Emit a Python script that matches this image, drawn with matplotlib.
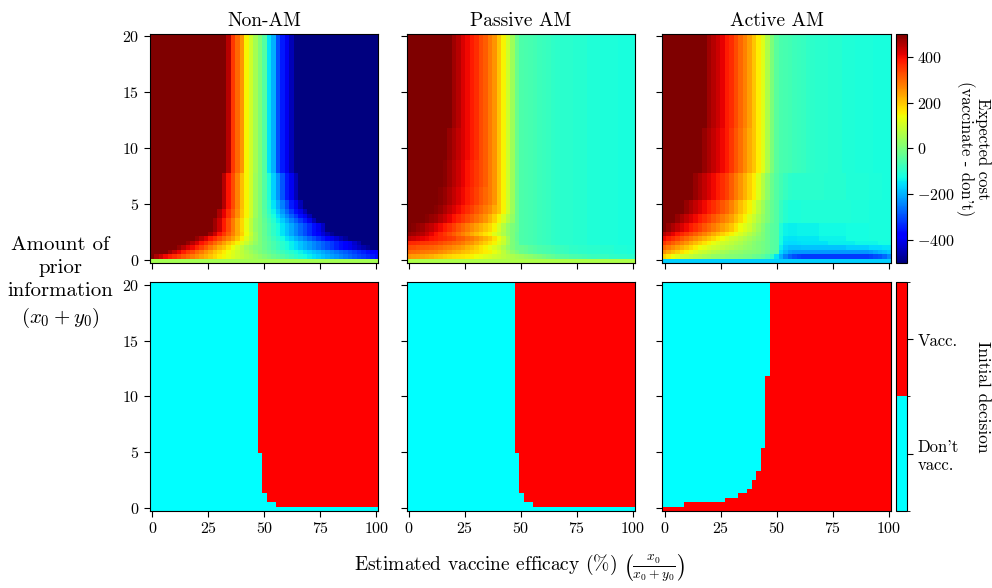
import numpy as np
import matplotlib.pyplot as plt
from matplotlib.colors import ListedColormap, BoundaryNorm
from matplotlib.cm import ScalarMappable

plt.rcParams['font.family'] = 'serif'
plt.rcParams['font.serif'] = ['cmr10']
plt.rcParams['mathtext.fontset'] = 'cm'
plt.rcParams['axes.formatter.use_mathtext'] = True

# grid: estimated efficacy (%) across, amount of prior information (x0 + y0) up
efficacy_pct = np.arange(0, 101, 2)
prior_amount = np.arange(0, 20.01, 0.4)

titles = ['Non-AM', 'Passive AM', 'Active AM']

# Expected cost (vaccinate - don't), one string per row of prior_amount.
# "v*n" means the value v repeated n times.
nonam_cost_rows = (
    ["50*51"]
    + ["500 460 430 400 380 360 340 320 300 280 260 240 220 200 180 160 145 130 115 100 85 70 55 40 "
       "25 10 -5 -20 -35 -50 -65 -80 -95 -110 -125 -140 -155 -170 -185 -200 -215 -230 -245 -260 -275 "
       "-290 -305 -320 -335 -350 -365"]
    + ["500*4 470 440 410 380 350 330 300 280 250 230 200 180 160 140 120 100 80 60 40 20 "
       "0 -15 -30 -45 -60 -75 -90 -105 -120 -135 -150 -165 -180 -195 -210 -225 -240 -255 -270 -285 "
       "-300 -315 -330 -345 -360 -375 -390"]
    + ["500*6 480 450 420 400 370 340 310 280 250 220 200 170 140 110 80 50 30 10 "
       "0 -20 -40 -60 -80 -100 -120 -140 -160 -180 -200 -220 -240 -260 -280 -300 -320 -340 -360 -380 "
       "-400 -420 -440 -460 -480 -500*2"]
    + ["500*8 480 450 420 390 360 330 300 270 240 210 180 150 120 90 60 30 "
       "0 -20 -40 -60 -80 -100 -120 -140 -160 -180 -200 -220 -240 -260 -280 -300 -320 -340 -360 -380 "
       "-400 -430 -460 -500*4"]
    + ["500*10 480 450 420 390 360 330 300 270 240 200 160 120 80 40 "
       "0 -25 -50 -75 -100 -125 -150 -175 -200 -225 -250 -275 -300 -325 -350 -375 -400 -425 -450 -475 "
       "-500*7"]
    + ["500*13 470 430 390 350 310 270 230 190 140 90 40 "
       "0 -30 -60 -90 -120 -150 -180 -210 -240 -270 -300 -330 -360 -390 -420 -450 -480 -500*10"]
    + ["500*14 470 430 380 330 280 230 180 130 80 30 "
       "0 -30 -60 -90 -120 -150 -180 -210 -240 -270 -300 -330 -360 -400 -440 -500*12"] * 2
    + ["500*14 470 430 380 330 280 230 180 130 80 30 "
       "0 -35 -70 -105 -140 -175 -210 -245 -280 -315 -350 -400 -450 -500*14"]
    + ["500*15 460 410 360 310 260 200 150 100 40 "
       "0 -40 -80 -120 -160 -200 -240 -280 -320 -360 -400 -450 -500*15"]
    + ["500*15 460 410 360 310 260 200 150 100 40 "
       "0 -45 -90 -135 -180 -225 -270 -315 -360 -405 -450 -500*16"]
    + ["500*16 450 390 330 270 210 150 100 40 "
       "0 -50 -100 -150 -200 -250 -300 -350 -400 -450 -500*17"] * 2
    + ["500*16 450 390 330 270 210 150 100 40 "
       "0 -50 -110 -170 -230 -290 -350 -400 -450 -500*18"] * 6
    + ["500*17 450 350 300 250 150 100 50 0 -50 -150 -200 -300 -350 -400 -450 -500*19"] * 31
)

p_tail = "-55 -60 -65 -70 -75 -80 -85 -90 -95 -100*3 -105*3 -110*3 -115*4 -120*4"
p_tail_08 = "-20 -30 -40 -50 -55 -60 -65 -70 -75 -80 -85 -90*2 -95*2 -100*3 -105*3 -110*3 -115*2"
p_tail_04 = ("40 30 20 10 0 -10 -20 -30 -40 -45 -50 -55 -60 -65 -70 -75 "
             "-80*2 -85*2 -90*2 -95*2 -100*2")

passive_cost_rows = (
    ["60*51"]
    + ["250 245 240 235 230 220 210 200 190 180 175 170 165 160 150 140 130 120 110 100 90 80 70 60 50 "
       + p_tail_04]
    + ["300 295 290 285 280 275 270 260 250 240 230 220 210 200 190 180 170 160 150 130 110 80 50 20 0 "
       + p_tail_08]
    + ["330 325 320 315 310 305 300 290 280 270 260 250 240 220 210 190 170 150 130 110 90 60 30 0 -20 "
       + p_tail_08]
    + ["370 365 360 355 350 345 340 330 320 310 300 290 280 260 250 230 210 190 170 150 120 90 50 0 -20 "
       + p_tail]
    + ["440 430 420 410 400 390 380 370 360 350 340 320 310 290 280 260 240 220 200 170 140 100 50 0 -30 "
       + p_tail]
    + ["480 470 460 450 430 410 390 370 350 330 310 290 270 250 230 210 190 170 150 120 90 60 30 0 -30 "
       + p_tail]
    + ["500 490 480 470 450 440 420 400 380 360 340 320 300 280 260 240 220 200 180 150 110 70 30 0 -20 "
       + p_tail] * 2
    + ["500*4 490 480 470 450 430 410 390 370 350 330 310 290 270 250 220 190 150 110 70 30 -20 "
       + p_tail] * 2
    + ["500*6 490 480 460 440 420 400 380 360 340 320 300 280 260 230 200 150 100 40 -20 "
       + p_tail] * 2
    + ["500*7 490 480 460 440 420 400 380 360 340 320 300 280 250 200 150 100 40 -20 " + p_tail] * 4
    + ["500*8 490 470 450 430 410 390 370 350 330 310 280 250 200 150 100 40 -20 " + p_tail] * 6
    + ["500*9 480 460 440 420 400 380 360 330 310 280 250 200 150 100 40 -20 " + p_tail] * 7
    + ["500*10 470 450 420 400 380 360 330 310 280 250 200 150 100 40 -20 " + p_tail] * 21
)

a_tail = "-60 -65 -70 -75 -80 -85 -90 -95 -100*3 -105*3 -110*3 -115*4 -120*4"
a_blue_6 = "-110 -135 -140 -138 -135*5 -128*6 -122*5 -118*5"
a_blue_10 = "-85 -105 -115 -116 -115 -112 -110*5 -112*5 -115*4 -118*3 -120*2"

active_cost_rows = (
    ["-170*51"]
    + ["180 160 140 120 100 90 80 70 60 50 40 30 25 20 15 10 5 0 -5 -10 -20 -30 -40 -60 -90 -150 "
       "-200 -250 -280 -300 -310 -320*15 -310 -300 -290 -270 -240"]
    + ["250 230 210 190 170 150 130 115 100 90 80 70 60 50 40 30 25 20 15 10 5 0 -10 -25 -40 -50 "
       "-160 -195 -215 -225*17 -215 -205 -195 -185 -175"]
    + ["300 280 260 240 220 200 180 160 140 125 110 100 90 80 70 60 50 40 30 20 10 0 -10 -20 -40 -50 "
       "-140 -175 -185*3 -180*10 -170*5 -160*3 -150*2"]
    + ["350 330 310 290 270 250 230 210 190 170 150 130 115 100 90 80 70 55 40 30 15 0 -10 -20 -40 -50 "
       "-125 -155 -160*2 -155 -150*6 -140*6 -130*5 -125*3"]
    + ["400 380 360 340 320 300 280 260 240 220 200 180 160 140 120 100 90 75 60 45 30 15 0 -20 -40 -50 "
       "-120 -145 -150*2 -145*5 -135*6 -125*5 -120*5"]
    + ["450 430 410 390 370 350 330 310 290 270 250 230 210 190 170 150 130 110 90 70 50 25 0 -20 -40 -50 "
       + a_blue_6]
    + ["500 480 460 440 420 400 380 360 340 320 300 280 260 240 220 200 170 140 120 100 70 40 10 -20 -40 -50 "
       + a_blue_6] * 2
    + ["500*3 480 460 440 420 400 380 360 340 320 300 280 260 240 210 180 150 120 90 60 30 0 -30 -50 "
       + a_blue_10] * 2
    + ["500*5 480 460 440 420 400 380 360 340 320 300 270 240 210 180 150 120 80 40 0 -30 -50 "
       + a_blue_10] * 3
    + ["500*7 480 460 440 420 400 380 360 340 310 280 250 220 190 160 120 70 20 -20 -50 "
       "-70 -85 -95 -100 -100 -100*5 -105*5 -110*5 -115*3 -120*2"] * 6
    + ["500*9 480 460 440 420 400 380 350 320 290 260 230 200 160 120 60 0 -40 " + a_tail] * 10
    + ["500*10 470 450 430 410 380 360 330 300 270 240 200 160 120 60 0 -40 " + a_tail] * 21
)

# efficacy (%) from which the initial decision is "vaccinate", per row of prior_amount
nonam_vacc_from = [101] + [56] + [52] * 2 + [50] * 9 + [48] * 38
passive_vacc_from = [101] + [56] + [52] * 2 + [50] * 9 + [48] * 38
active_vacc_from = [0, 10, 28, 34, 38] + [40] * 2 + [42] * 2 + [44] * 5 + [46] * 16 + [48] * 21


def expand(spec):
    vals = []
    for tok in spec.split():
        v, _, n = tok.partition('*')
        vals += [float(v)] * int(n or 1)
    assert len(vals) == len(efficacy_pct), (len(vals), spec[:40])
    return vals


def cost_grid(rows):
    assert len(rows) == len(prior_amount), len(rows)
    return np.array([expand(r) for r in rows])


def decision_grid(vacc_from):
    return (efficacy_pct[None, :] >= np.array(vacc_from)[:, None]).astype(int)


costs = [cost_grid(nonam_cost_rows), cost_grid(passive_cost_rows), cost_grid(active_cost_rows)]
decisions = [decision_grid(nonam_vacc_from), decision_grid(passive_vacc_from),
             decision_grid(active_vacc_from)]

dx = (efficacy_pct[1] - efficacy_pct[0]) / 2
dy = (prior_amount[1] - prior_amount[0]) / 2
extent = [efficacy_pct[0] - dx, efficacy_pct[-1] + dx, prior_amount[0] - dy, prior_amount[-1] + dy]

dec_cmap = ListedColormap(['#00ffff', '#ff0000'])
dec_norm = BoundaryNorm([-0.5, 0.5, 1.5], 2)

fig = plt.figure(figsize=(9.92, 5.88), dpi=100)

lefts = [0.1512, 0.4098, 0.6678]
width = 0.2303
top_b, top_h = 0.5532, 0.3889
bot_b, bot_h = 0.1315, 0.3884
tick_kw = dict(direction='out', length=4, width=0.8, labelsize=11.5)

for i in range(3):
    ax = fig.add_axes([lefts[i], top_b, width, top_h])
    im = ax.imshow(costs[i], origin='lower', extent=extent, aspect='auto',
                   cmap='jet', vmin=-500, vmax=500, interpolation='nearest')
    ax.set_title(titles[i], fontsize=14, pad=6)
    ax.set_xticks([0, 25, 50, 75, 100])
    ax.set_xticklabels([])
    ax.set_yticks([0, 5, 10, 15, 20])
    if i > 0:
        ax.set_yticklabels([])
    ax.tick_params(**tick_kw)

    axb = fig.add_axes([lefts[i], bot_b, width, bot_h])
    axb.imshow(decisions[i], origin='lower', extent=extent, aspect='auto',
               cmap=dec_cmap, norm=dec_norm, interpolation='nearest')
    axb.set_xticks([0, 25, 50, 75, 100])
    axb.set_yticks([0, 5, 10, 15, 20])
    if i > 0:
        axb.set_yticklabels([])
    axb.tick_params(**tick_kw)

cax_top = fig.add_axes([0.9032, top_b, 0.0111, top_h])
cb_top = fig.colorbar(im, cax=cax_top, ticks=[-400, -200, 0, 200, 400])
cb_top.ax.tick_params(**tick_kw)

cax_bot = fig.add_axes([0.9032, bot_b, 0.0111, bot_h])
cb_bot = fig.colorbar(ScalarMappable(norm=dec_norm, cmap=dec_cmap), cax=cax_bot, ticks=[0, 1])
cb_bot.ax.set_yticklabels(["Don't\nvacc.", "Vacc."])
cb_bot.ax.tick_params(direction='out', length=4, width=0.8, labelsize=12)

fig.text(0.981, 0.7474, "Expected cost\n(vaccinate - don't)", rotation=270,
         ha='center', va='center', fontsize=12, linespacing=1.0)
fig.text(0.991, 0.325, "Initial decision", rotation=270, ha='center', va='center', fontsize=12.5)

fig.text(0.0605, 0.518, "Amount of\nprior\ninformation\n$(x_0 + y_0)$",
         ha='center', va='center', fontsize=15, linespacing=1.35)
fig.text(0.524, 0.034, r"Estimated vaccine efficacy (%) $\left(\frac{x_0}{x_0+y_0}\right)$",
         ha='center', va='center', fontsize=14)

fig.savefig('out.png', dpi=100)
